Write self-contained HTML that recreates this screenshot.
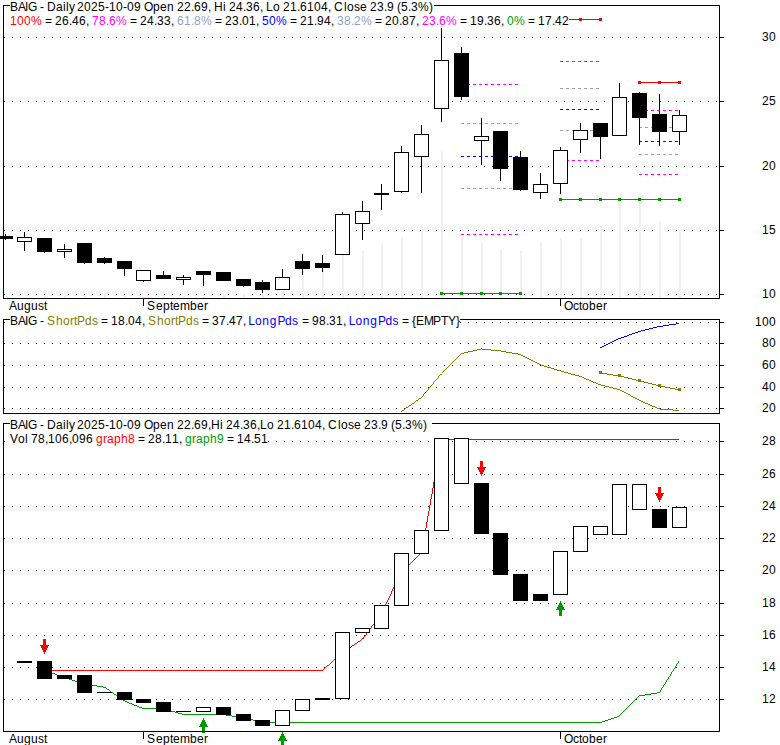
<!DOCTYPE html>
<html><head><meta charset="utf-8"><title>BAIG chart</title>
<style>
html,body{margin:0;padding:0;background:#fff;}
body{width:780px;height:745px;overflow:hidden;}
svg{display:block;}
svg text{font-family:"Liberation Sans",sans-serif;font-size:12px;white-space:pre;}
</style></head><body>
<svg width="780" height="745" viewBox="0 0 780 745" shape-rendering="crispEdges">
<rect x="0" y="0" width="780" height="745" fill="#fff"/>
<g id="top">
<path d="M4 37.5H717" stroke="#000" stroke-width="1" stroke-dasharray="1 7" fill="none"/>
<path d="M4 101.5H717" stroke="#000" stroke-width="1" stroke-dasharray="1 7" fill="none"/>
<path d="M4 166.5H717" stroke="#000" stroke-width="1" stroke-dasharray="1 7" fill="none"/>
<path d="M4 230.5H717" stroke="#000" stroke-width="1" stroke-dasharray="1 7" fill="none"/>
<path d="M4 294.5H717" stroke="#000" stroke-width="1" stroke-dasharray="1 7" fill="none"/>
<rect x="44" y="295" width="2" height="3" fill="#f0f0f0"/>
<rect x="64" y="296" width="2" height="2" fill="#f0f0f0"/>
<rect x="84" y="296" width="2" height="2" fill="#f0f0f0"/>
<rect x="104" y="293" width="2" height="5" fill="#f0f0f0"/>
<rect x="124" y="296" width="2" height="2" fill="#f0f0f0"/>
<rect x="143" y="296" width="2" height="2" fill="#f0f0f0"/>
<rect x="163" y="296" width="2" height="2" fill="#f0f0f0"/>
<rect x="183" y="296" width="2" height="2" fill="#f0f0f0"/>
<rect x="203" y="296" width="2" height="2" fill="#f0f0f0"/>
<rect x="223" y="295" width="2" height="3" fill="#f0f0f0"/>
<rect x="243" y="294" width="2" height="4" fill="#f0f0f0"/>
<rect x="262" y="293" width="2" height="5" fill="#f0f0f0"/>
<rect x="282" y="291" width="2" height="7" fill="#f0f0f0"/>
<rect x="302" y="270" width="2" height="28" fill="#f0f0f0"/>
<rect x="322" y="268" width="2" height="30" fill="#f0f0f0"/>
<rect x="342" y="240" width="2" height="58" fill="#f0f0f0"/>
<rect x="362" y="251" width="2" height="47" fill="#f0f0f0"/>
<rect x="381" y="244" width="2" height="54" fill="#f0f0f0"/>
<rect x="401" y="237" width="2" height="61" fill="#f0f0f0"/>
<rect x="421" y="226" width="2" height="72" fill="#f0f0f0"/>
<rect x="441" y="151" width="2" height="147" fill="#f0f0f0"/>
<rect x="461" y="237" width="2" height="61" fill="#f0f0f0"/>
<rect x="481" y="242" width="2" height="56" fill="#f0f0f0"/>
<rect x="500" y="249" width="2" height="49" fill="#f0f0f0"/>
<rect x="520" y="251" width="2" height="47" fill="#f0f0f0"/>
<rect x="540" y="242" width="2" height="56" fill="#f0f0f0"/>
<rect x="560" y="238" width="2" height="60" fill="#f0f0f0"/>
<rect x="580" y="238" width="2" height="60" fill="#f0f0f0"/>
<rect x="600" y="226" width="2" height="72" fill="#f0f0f0"/>
<rect x="619" y="201" width="2" height="97" fill="#f0f0f0"/>
<rect x="639" y="201" width="2" height="97" fill="#f0f0f0"/>
<rect x="659" y="221" width="2" height="77" fill="#f0f0f0"/>
<rect x="679" y="230" width="2" height="68" fill="#f0f0f0"/>
<rect x="461" y="84" width="3" height="1" fill="#ff00ff"/>
<rect x="467" y="84" width="3" height="1" fill="#ff00ff"/>
<rect x="473" y="84" width="3" height="1" fill="#ff00ff"/>
<rect x="479" y="84" width="3" height="1" fill="#ff00ff"/>
<rect x="485" y="84" width="3" height="1" fill="#ff00ff"/>
<rect x="491" y="84" width="3" height="1" fill="#ff00ff"/>
<rect x="497" y="84" width="3" height="1" fill="#ff00ff"/>
<rect x="503" y="84" width="3" height="1" fill="#ff00ff"/>
<rect x="509" y="84" width="3" height="1" fill="#ff00ff"/>
<rect x="515" y="84" width="3" height="1" fill="#ff00ff"/>
<rect x="461" y="123" width="3" height="1" fill="#a0a0a0"/>
<rect x="467" y="123" width="3" height="1" fill="#a0a0a0"/>
<rect x="473" y="123" width="3" height="1" fill="#a0a0a0"/>
<rect x="479" y="123" width="3" height="1" fill="#a0a0a0"/>
<rect x="485" y="123" width="3" height="1" fill="#a0a0a0"/>
<rect x="491" y="123" width="3" height="1" fill="#a0a0a0"/>
<rect x="497" y="123" width="3" height="1" fill="#a0a0a0"/>
<rect x="503" y="123" width="3" height="1" fill="#a0a0a0"/>
<rect x="509" y="123" width="3" height="1" fill="#a0a0a0"/>
<rect x="515" y="123" width="3" height="1" fill="#a0a0a0"/>
<rect x="461" y="156" width="3" height="1" fill="#0000ff"/>
<rect x="467" y="156" width="3" height="1" fill="#0000ff"/>
<rect x="473" y="156" width="3" height="1" fill="#0000ff"/>
<rect x="479" y="156" width="3" height="1" fill="#0000ff"/>
<rect x="485" y="156" width="3" height="1" fill="#0000ff"/>
<rect x="491" y="156" width="3" height="1" fill="#0000ff"/>
<rect x="497" y="156" width="3" height="1" fill="#0000ff"/>
<rect x="503" y="156" width="3" height="1" fill="#0000ff"/>
<rect x="509" y="156" width="3" height="1" fill="#0000ff"/>
<rect x="515" y="156" width="3" height="1" fill="#0000ff"/>
<rect x="461" y="188" width="3" height="1" fill="#a0a0a0"/>
<rect x="467" y="188" width="3" height="1" fill="#a0a0a0"/>
<rect x="473" y="188" width="3" height="1" fill="#a0a0a0"/>
<rect x="479" y="188" width="3" height="1" fill="#a0a0a0"/>
<rect x="485" y="188" width="3" height="1" fill="#a0a0a0"/>
<rect x="491" y="188" width="3" height="1" fill="#a0a0a0"/>
<rect x="497" y="188" width="3" height="1" fill="#a0a0a0"/>
<rect x="503" y="188" width="3" height="1" fill="#a0a0a0"/>
<rect x="509" y="188" width="3" height="1" fill="#a0a0a0"/>
<rect x="515" y="188" width="3" height="1" fill="#a0a0a0"/>
<rect x="461" y="234" width="3" height="1" fill="#ff00ff"/>
<rect x="467" y="234" width="3" height="1" fill="#ff00ff"/>
<rect x="473" y="234" width="3" height="1" fill="#ff00ff"/>
<rect x="479" y="234" width="3" height="1" fill="#ff00ff"/>
<rect x="485" y="234" width="3" height="1" fill="#ff00ff"/>
<rect x="491" y="234" width="3" height="1" fill="#ff00ff"/>
<rect x="497" y="234" width="3" height="1" fill="#ff00ff"/>
<rect x="503" y="234" width="3" height="1" fill="#ff00ff"/>
<rect x="509" y="234" width="3" height="1" fill="#ff00ff"/>
<rect x="515" y="234" width="3" height="1" fill="#ff00ff"/>
<rect x="560" y="61" width="3" height="1" fill="#ff00ff"/>
<rect x="566" y="61" width="3" height="1" fill="#ff00ff"/>
<rect x="572" y="61" width="3" height="1" fill="#ff00ff"/>
<rect x="578" y="61" width="3" height="1" fill="#ff00ff"/>
<rect x="584" y="61" width="3" height="1" fill="#ff00ff"/>
<rect x="590" y="61" width="3" height="1" fill="#ff00ff"/>
<rect x="596" y="61" width="3" height="1" fill="#ff00ff"/>
<rect x="560" y="88" width="3" height="1" fill="#a0a0a0"/>
<rect x="566" y="88" width="3" height="1" fill="#a0a0a0"/>
<rect x="572" y="88" width="3" height="1" fill="#a0a0a0"/>
<rect x="578" y="88" width="3" height="1" fill="#a0a0a0"/>
<rect x="584" y="88" width="3" height="1" fill="#a0a0a0"/>
<rect x="590" y="88" width="3" height="1" fill="#a0a0a0"/>
<rect x="596" y="88" width="3" height="1" fill="#a0a0a0"/>
<rect x="560" y="109" width="3" height="1" fill="#0000ff"/>
<rect x="566" y="109" width="3" height="1" fill="#0000ff"/>
<rect x="572" y="109" width="3" height="1" fill="#0000ff"/>
<rect x="578" y="109" width="3" height="1" fill="#0000ff"/>
<rect x="584" y="109" width="3" height="1" fill="#0000ff"/>
<rect x="590" y="109" width="3" height="1" fill="#0000ff"/>
<rect x="596" y="109" width="3" height="1" fill="#0000ff"/>
<rect x="560" y="130" width="3" height="1" fill="#a0a0a0"/>
<rect x="566" y="130" width="3" height="1" fill="#a0a0a0"/>
<rect x="572" y="130" width="3" height="1" fill="#a0a0a0"/>
<rect x="578" y="130" width="3" height="1" fill="#a0a0a0"/>
<rect x="584" y="130" width="3" height="1" fill="#a0a0a0"/>
<rect x="590" y="130" width="3" height="1" fill="#a0a0a0"/>
<rect x="596" y="130" width="3" height="1" fill="#a0a0a0"/>
<rect x="560" y="160" width="3" height="1" fill="#ff00ff"/>
<rect x="566" y="160" width="3" height="1" fill="#ff00ff"/>
<rect x="572" y="160" width="3" height="1" fill="#ff00ff"/>
<rect x="578" y="160" width="3" height="1" fill="#ff00ff"/>
<rect x="584" y="160" width="3" height="1" fill="#ff00ff"/>
<rect x="590" y="160" width="3" height="1" fill="#ff00ff"/>
<rect x="596" y="160" width="3" height="1" fill="#ff00ff"/>
<rect x="639" y="110" width="3" height="1" fill="#ff00ff"/>
<rect x="645" y="110" width="3" height="1" fill="#ff00ff"/>
<rect x="651" y="110" width="3" height="1" fill="#ff00ff"/>
<rect x="657" y="110" width="3" height="1" fill="#ff00ff"/>
<rect x="663" y="110" width="3" height="1" fill="#ff00ff"/>
<rect x="669" y="110" width="3" height="1" fill="#ff00ff"/>
<rect x="675" y="110" width="3" height="1" fill="#ff00ff"/>
<rect x="639" y="127" width="3" height="1" fill="#a0a0a0"/>
<rect x="645" y="127" width="3" height="1" fill="#a0a0a0"/>
<rect x="651" y="127" width="3" height="1" fill="#a0a0a0"/>
<rect x="657" y="127" width="3" height="1" fill="#a0a0a0"/>
<rect x="663" y="127" width="3" height="1" fill="#a0a0a0"/>
<rect x="669" y="127" width="3" height="1" fill="#a0a0a0"/>
<rect x="675" y="127" width="3" height="1" fill="#a0a0a0"/>
<rect x="639" y="141" width="3" height="1" fill="#0000ff"/>
<rect x="645" y="141" width="3" height="1" fill="#0000ff"/>
<rect x="651" y="141" width="3" height="1" fill="#0000ff"/>
<rect x="657" y="141" width="3" height="1" fill="#0000ff"/>
<rect x="663" y="141" width="3" height="1" fill="#0000ff"/>
<rect x="669" y="141" width="3" height="1" fill="#0000ff"/>
<rect x="675" y="141" width="3" height="1" fill="#0000ff"/>
<rect x="639" y="154" width="3" height="1" fill="#a0a0a0"/>
<rect x="645" y="154" width="3" height="1" fill="#a0a0a0"/>
<rect x="651" y="154" width="3" height="1" fill="#a0a0a0"/>
<rect x="657" y="154" width="3" height="1" fill="#a0a0a0"/>
<rect x="663" y="154" width="3" height="1" fill="#a0a0a0"/>
<rect x="669" y="154" width="3" height="1" fill="#a0a0a0"/>
<rect x="675" y="154" width="3" height="1" fill="#a0a0a0"/>
<rect x="639" y="174" width="3" height="1" fill="#ff00ff"/>
<rect x="645" y="174" width="3" height="1" fill="#ff00ff"/>
<rect x="651" y="174" width="3" height="1" fill="#ff00ff"/>
<rect x="657" y="174" width="3" height="1" fill="#ff00ff"/>
<rect x="663" y="174" width="3" height="1" fill="#ff00ff"/>
<rect x="669" y="174" width="3" height="1" fill="#ff00ff"/>
<rect x="675" y="174" width="3" height="1" fill="#ff00ff"/>
<rect x="5" y="234" width="1" height="6" fill="#000"/>
<rect x="-2" y="236" width="15" height="3" fill="#000"/>
<rect x="24" y="232" width="1" height="19" fill="#000"/>
<rect x="17" y="237" width="15" height="5" fill="#000"/>
<rect x="18" y="238" width="13" height="3" fill="#fff"/>
<rect x="44" y="238" width="1" height="15" fill="#000"/>
<rect x="37" y="238" width="15" height="14" fill="#000"/>
<rect x="64" y="244" width="1" height="14" fill="#000"/>
<rect x="57" y="249" width="15" height="3" fill="#000"/>
<rect x="58" y="250" width="13" height="1" fill="#fff"/>
<rect x="84" y="243" width="1" height="21" fill="#000"/>
<rect x="77" y="243" width="15" height="20" fill="#000"/>
<rect x="104" y="257" width="1" height="7" fill="#000"/>
<rect x="97" y="258" width="15" height="5" fill="#000"/>
<rect x="124" y="261" width="1" height="15" fill="#000"/>
<rect x="117" y="261" width="15" height="8" fill="#000"/>
<rect x="143" y="270" width="1" height="12" fill="#000"/>
<rect x="136" y="270" width="15" height="11" fill="#000"/>
<rect x="137" y="271" width="13" height="9" fill="#fff"/>
<rect x="163" y="271" width="1" height="8" fill="#000"/>
<rect x="156" y="275" width="15" height="4" fill="#000"/>
<rect x="183" y="275" width="1" height="10" fill="#000"/>
<rect x="176" y="277" width="15" height="3" fill="#000"/>
<rect x="177" y="278" width="13" height="1" fill="#fff"/>
<rect x="203" y="271" width="1" height="15" fill="#000"/>
<rect x="196" y="271" width="15" height="4" fill="#000"/>
<rect x="223" y="272" width="1" height="9" fill="#000"/>
<rect x="216" y="272" width="15" height="9" fill="#000"/>
<rect x="243" y="279" width="1" height="8" fill="#000"/>
<rect x="236" y="279" width="15" height="7" fill="#000"/>
<rect x="262" y="280" width="1" height="13" fill="#000"/>
<rect x="255" y="282" width="15" height="8" fill="#000"/>
<rect x="282" y="269" width="1" height="21" fill="#000"/>
<rect x="275" y="277" width="15" height="13" fill="#000"/>
<rect x="276" y="278" width="13" height="11" fill="#fff"/>
<rect x="302" y="254" width="1" height="21" fill="#000"/>
<rect x="295" y="261" width="15" height="8" fill="#000"/>
<rect x="322" y="255" width="1" height="17" fill="#000"/>
<rect x="315" y="263" width="15" height="5" fill="#000"/>
<rect x="342" y="212" width="1" height="43" fill="#000"/>
<rect x="335" y="214" width="15" height="41" fill="#000"/>
<rect x="336" y="215" width="13" height="39" fill="#fff"/>
<rect x="362" y="201" width="1" height="39" fill="#000"/>
<rect x="355" y="211" width="15" height="13" fill="#000"/>
<rect x="356" y="212" width="13" height="11" fill="#fff"/>
<rect x="381" y="184" width="1" height="26" fill="#000"/>
<rect x="374" y="193" width="15" height="2" fill="#000"/>
<rect x="401" y="146" width="1" height="47" fill="#000"/>
<rect x="394" y="152" width="15" height="40" fill="#000"/>
<rect x="395" y="153" width="13" height="38" fill="#fff"/>
<rect x="421" y="125" width="1" height="68" fill="#000"/>
<rect x="414" y="134" width="15" height="23" fill="#000"/>
<rect x="415" y="135" width="13" height="21" fill="#fff"/>
<rect x="441" y="28" width="1" height="94" fill="#000"/>
<rect x="434" y="60" width="15" height="49" fill="#000"/>
<rect x="435" y="61" width="13" height="47" fill="#fff"/>
<rect x="461" y="47" width="1" height="53" fill="#000"/>
<rect x="454" y="53" width="15" height="44" fill="#000"/>
<rect x="481" y="118" width="1" height="47" fill="#000"/>
<rect x="474" y="136" width="15" height="5" fill="#000"/>
<rect x="475" y="137" width="13" height="3" fill="#fff"/>
<rect x="500" y="131" width="1" height="50" fill="#000"/>
<rect x="493" y="131" width="15" height="38" fill="#000"/>
<rect x="520" y="151" width="1" height="40" fill="#000"/>
<rect x="513" y="157" width="15" height="33" fill="#000"/>
<rect x="540" y="173" width="1" height="26" fill="#000"/>
<rect x="533" y="184" width="15" height="9" fill="#000"/>
<rect x="534" y="185" width="13" height="7" fill="#fff"/>
<rect x="560" y="147" width="1" height="47" fill="#000"/>
<rect x="553" y="150" width="15" height="34" fill="#000"/>
<rect x="554" y="151" width="13" height="32" fill="#fff"/>
<rect x="580" y="123" width="1" height="30" fill="#000"/>
<rect x="573" y="130" width="15" height="10" fill="#000"/>
<rect x="574" y="131" width="13" height="8" fill="#fff"/>
<rect x="600" y="123" width="1" height="36" fill="#000"/>
<rect x="593" y="123" width="15" height="14" fill="#000"/>
<rect x="619" y="83" width="1" height="53" fill="#000"/>
<rect x="612" y="97" width="15" height="39" fill="#000"/>
<rect x="613" y="98" width="13" height="37" fill="#fff"/>
<rect x="639" y="92" width="1" height="53" fill="#000"/>
<rect x="632" y="93" width="15" height="25" fill="#000"/>
<rect x="659" y="94" width="1" height="52" fill="#000"/>
<rect x="652" y="114" width="15" height="18" fill="#000"/>
<rect x="679" y="110" width="1" height="35" fill="#000"/>
<rect x="672" y="115" width="15" height="17" fill="#000"/>
<rect x="673" y="116" width="13" height="15" fill="#fff"/>
<rect x="441" y="293" width="81" height="1" fill="#009900"/>
<rect x="440" y="292" width="3" height="3" fill="#009900"/>
<rect x="460" y="292" width="3" height="3" fill="#009900"/>
<rect x="480" y="292" width="3" height="3" fill="#009900"/>
<rect x="499" y="292" width="3" height="3" fill="#009900"/>
<rect x="519" y="292" width="3" height="3" fill="#009900"/>
<rect x="560" y="199" width="121" height="1" fill="#009900"/>
<rect x="559" y="198" width="3" height="3" fill="#009900"/>
<rect x="579" y="198" width="3" height="3" fill="#009900"/>
<rect x="599" y="198" width="3" height="3" fill="#009900"/>
<rect x="618" y="198" width="3" height="3" fill="#009900"/>
<rect x="638" y="198" width="3" height="3" fill="#009900"/>
<rect x="658" y="198" width="3" height="3" fill="#009900"/>
<rect x="678" y="198" width="3" height="3" fill="#009900"/>
<rect x="560" y="19" width="42" height="1" fill="#ff0000"/>
<rect x="579" y="18" width="3" height="3" fill="#ff0000"/>
<rect x="599" y="18" width="3" height="3" fill="#ff0000"/>
<rect x="639" y="82" width="42" height="1" fill="#ff0000"/>
<rect x="638" y="81" width="3" height="3" fill="#ff0000"/>
<rect x="658" y="81" width="3" height="3" fill="#ff0000"/>
<rect x="678" y="81" width="3" height="3" fill="#ff0000"/>
<rect x="3" y="5" width="717" height="1" fill="#000"/>
<rect x="3" y="298" width="717" height="1" fill="#000"/>
<rect x="3" y="5" width="1" height="294" fill="#000"/>
<rect x="719" y="5" width="1" height="294" fill="#000"/>
<rect x="720" y="37" width="4" height="1" fill="#000"/>
<rect x="720" y="101" width="4" height="1" fill="#000"/>
<rect x="720" y="166" width="4" height="1" fill="#000"/>
<rect x="720" y="230" width="4" height="1" fill="#000"/>
<rect x="720" y="294" width="4" height="1" fill="#000"/>
<rect x="143" y="298" width="1" height="8" fill="#000"/>
<rect x="560" y="298" width="1" height="8" fill="#000"/>
<rect x="10" y="0" width="424" height="13" fill="#fff"/>
<rect x="10" y="13" width="559" height="14" fill="#fff"/>
<text x="10 18 25 28" y="11" fill="#000">BAIG</text>
<text x="40" y="11" fill="#000">-</text>
<text x="47 56 63 66 69" y="11" fill="#000">Daily</text>
<text x="77 84 91 98 105 109 116 123 127 134" y="11" fill="#000">2025-10-09</text>
<text x="144 153 160 167" y="11" fill="#000">Open</text>
<text x="177 184 191 194 201 208" y="11" fill="#000">22.69,</text>
<text x="214 223" y="11" fill="#000">Hi</text>
<text x="229 236 243 246 253 260" y="11" fill="#000">24.36,</text>
<text x="266 273" y="11" fill="#000">Lo</text>
<text x="283 290 297 300 307 314 321 328" y="11" fill="#000">21.6104,</text>
<text x="334 344 347 354 360" y="11" fill="#000">Close</text>
<text x="370 377 384 387" y="11" fill="#000">23.9</text>
<text x="397 401 408 411 418 429" y="11" fill="#000">(5.3%)</text>
<text x="10 17 24 31" y="25" fill="#ff0000">100%</text>
<text x="45" y="25" fill="#000">=</text>
<text x="55 62 69 72 79 86" y="25" fill="#000">26.46,</text>
<text x="92 99 106 109 116" y="25" fill="#ff00ff">78.6%</text>
<text x="130" y="25" fill="#000">=</text>
<text x="140 147 154 157 164 171" y="25" fill="#000">24.33,</text>
<text x="177 184 191 194 201" y="25" fill="#8ea2c8">61.8%</text>
<text x="215" y="25" fill="#000">=</text>
<text x="225 232 239 242 249 256" y="25" fill="#000">23.01,</text>
<text x="262 269 276" y="25" fill="#0000ff">50%</text>
<text x="290" y="25" fill="#000">=</text>
<text x="300 307 314 317 324 331" y="25" fill="#000">21.94,</text>
<text x="337 344 351 354 361" y="25" fill="#8ea2c8">38.2%</text>
<text x="375" y="25" fill="#000">=</text>
<text x="385 392 399 402 409 416" y="25" fill="#000">20.87,</text>
<text x="422 429 436 439 446" y="25" fill="#ff00ff">23.6%</text>
<text x="460" y="25" fill="#000">=</text>
<text x="470 477 484 487 494 501" y="25" fill="#000">19.36,</text>
<text x="507 514" y="25" fill="#009900">0%</text>
<text x="528" y="25" fill="#000">=</text>
<text x="538 545 552 555 562" y="25" fill="#000">17.42</text>
<text x="762 769" y="41" fill="#000">30</text>
<text x="762 769" y="105" fill="#000">25</text>
<text x="762 769" y="170" fill="#000">20</text>
<text x="762 769" y="234" fill="#000">15</text>
<text x="762 769" y="298" fill="#000">10</text>
<text x="9 17 24 31 38 44" y="310" fill="#000">August</text>
<text x="147 156 163 170 173 180 190 197 204" y="310" fill="#000">September</text>
<text x="564 573 579 582 589 596 603" y="310" fill="#000">October</text>
</g>
<g id="mid">
<path d="M4 322.5H717" stroke="#000" stroke-width="1" stroke-dasharray="1 7" fill="none"/>
<path d="M4 343.5H717" stroke="#000" stroke-width="1" stroke-dasharray="1 7" fill="none"/>
<path d="M4 365.5H717" stroke="#000" stroke-width="1" stroke-dasharray="1 7" fill="none"/>
<path d="M4 387.5H717" stroke="#000" stroke-width="1" stroke-dasharray="1 7" fill="none"/>
<path d="M4 408.5H717" stroke="#000" stroke-width="1" stroke-dasharray="1 7" fill="none"/>
<path d="M401 411h1v1h-1zM402 410h2v1h-2zM404 409h1v1h-1zM405 408h1v1h-1zM406 407h2v1h-2zM408 406h1v1h-1zM409 405h2v1h-2zM411 404h1v1h-1zM412 403h2v1h-2zM414 402h1v1h-1zM415 401h1v1h-1zM416 400h2v1h-2zM418 399h1v1h-1zM419 398h2v1h-2zM421 397h1v1h-1zM422 396h1v1h-1zM423 394h1v2h-1zM424 393h1v1h-1zM425 392h1v1h-1zM426 391h1v1h-1zM427 390h1v1h-1zM428 388h1v2h-1zM429 387h1v1h-1zM430 386h1v1h-1zM431 385h1v1h-1zM432 384h1v1h-1zM433 382h1v2h-1zM434 381h1v1h-1zM435 380h1v1h-1zM436 379h1v1h-1zM437 378h1v1h-1zM438 376h1v2h-1zM439 375h1v1h-1zM440 374h2v1h-2zM442 372h1v1h-1zM443 371h1v1h-1zM444 370h1v1h-1zM445 369h1v1h-1zM446 368h1v1h-1zM447 367h1v1h-1zM448 366h1v1h-1zM449 365h1v1h-1zM450 364h1v1h-1zM451 363h1v1h-1zM452 362h1v1h-1zM453 361h1v1h-1zM454 360h1v1h-1zM455 359h1v1h-1zM456 358h1v1h-1zM457 357h1v1h-1zM458 356h1v1h-1zM459 355h1v1h-1zM460 354h1v1h-1zM461 353h3v1h-3zM464 352h4v1h-4zM468 351h5v1h-5zM473 350h4v1h-4zM477 349h4v1h-4zM481 348h1v1h-1zM482 349h9v1h-9zM491 350h10v1h-10zM501 351h5v1h-5zM506 352h6v1h-6zM512 353h6v1h-6zM518 354h3v1h-3zM521 355h2v1h-2zM523 356h2v1h-2zM525 357h2v1h-2zM527 358h2v1h-2zM529 359h2v1h-2zM531 360h2v1h-2zM533 361h2v1h-2zM535 362h2v1h-2zM537 363h2v1h-2zM539 364h2v1h-2zM541 365h3v1h-3zM544 366h3v1h-3zM547 367h4v1h-4zM551 368h3v1h-3zM554 369h3v1h-3zM557 370h4v1h-4zM561 371h3v1h-3zM564 372h4v1h-4zM568 373h3v1h-3zM571 374h4v1h-4zM575 375h4v1h-4zM579 376h3v1h-3zM582 377h2v1h-2zM584 378h2v1h-2zM586 379h3v1h-3zM589 380h2v1h-2zM591 381h2v1h-2zM593 382h3v1h-3zM596 383h2v1h-2zM598 384h3v1h-3zM601 385h4v1h-4zM605 386h4v1h-4zM609 387h4v1h-4zM613 388h4v1h-4zM617 389h3v1h-3zM620 390h2v1h-2zM622 391h2v1h-2zM624 392h2v1h-2zM626 393h2v1h-2zM628 394h2v1h-2zM630 395h1v1h-1zM631 396h2v1h-2zM633 397h2v1h-2zM635 398h2v1h-2zM637 399h2v1h-2zM639 400h2v1h-2zM641 401h2v1h-2zM643 402h2v1h-2zM645 403h3v1h-3zM648 404h2v1h-2zM650 405h2v1h-2zM652 406h3v1h-3zM655 407h2v1h-2zM657 408h3v1h-3zM660 409h13v1h-13zM673 410h6v1h-6z" fill="#808000"/>
<path d="M600 372h1v1h-1zM601 373h6v1h-6zM607 374h6v1h-6zM613 375h7v1h-7zM620 376h4v1h-4zM624 377h4v1h-4zM628 378h4v1h-4zM632 379h4v1h-4zM636 380h4v1h-4zM640 381h4v1h-4zM644 382h4v1h-4zM648 383h4v1h-4zM652 384h4v1h-4zM656 385h4v1h-4zM660 386h5v1h-5zM665 387h5v1h-5zM670 388h5v1h-5zM675 389h4v1h-4z" fill="#808000"/>
<rect x="599" y="371" width="3" height="3" fill="#808000"/>
<rect x="618" y="374" width="3" height="3" fill="#808000"/>
<rect x="638" y="379" width="3" height="3" fill="#808000"/>
<rect x="658" y="384" width="3" height="3" fill="#808000"/>
<rect x="678" y="388" width="3" height="3" fill="#808000"/>
<path d="M600 347h2v1h-2zM602 346h2v1h-2zM604 345h2v1h-2zM606 344h2v1h-2zM608 343h2v1h-2zM610 342h2v1h-2zM612 341h2v1h-2zM614 340h2v1h-2zM616 339h2v1h-2zM618 338h3v1h-3zM621 337h3v1h-3zM624 336h3v1h-3zM627 335h2v1h-2zM629 334h3v1h-3zM632 333h3v1h-3zM635 332h3v1h-3zM638 331h3v1h-3zM641 330h4v1h-4zM645 329h4v1h-4zM649 328h4v1h-4zM653 327h4v1h-4zM657 326h6v1h-6zM663 325h6v1h-6zM669 324h7v1h-7zM676 323h3v1h-3z" fill="#0000ff"/>
<rect x="3" y="319" width="717" height="1" fill="#000"/>
<rect x="3" y="413" width="717" height="1" fill="#000"/>
<rect x="3" y="319" width="1" height="95" fill="#000"/>
<rect x="719" y="319" width="1" height="95" fill="#000"/>
<rect x="720" y="322" width="4" height="1" fill="#000"/>
<rect x="720" y="343" width="4" height="1" fill="#000"/>
<rect x="720" y="365" width="4" height="1" fill="#000"/>
<rect x="720" y="387" width="4" height="1" fill="#000"/>
<rect x="720" y="408" width="4" height="1" fill="#000"/>
<rect x="10" y="313" width="450" height="14" fill="#fff"/>
<text x="10 18 25 28" y="325" fill="#000">BAIG</text>
<text x="40" y="325" fill="#000">-</text>
<text x="47 56 63 70 74 77 85 92" y="325" fill="#808000">ShortPds</text>
<text x="101" y="325" fill="#000">=</text>
<text x="111 118 125 128 135 142" y="325" fill="#000">18.04,</text>
<text x="148 157 164 171 175 178 186 193" y="325" fill="#808000">ShortPds</text>
<text x="202" y="325" fill="#000">=</text>
<text x="212 219 226 229 236 243" y="325" fill="#000">37.47,</text>
<text x="302" y="325" fill="#000">=</text>
<text x="312 319 326 329 336 343" y="325" fill="#000">98.31,</text>
<text x="402" y="325" fill="#000">=</text>
<text x="412 416 424 433 441 448 456" y="325" fill="#000">{EMPTY}</text>
<text x="248.3 255 262.2 269.7 277.6 285.1 292" y="325" fill="#0000ff">LongPds</text>
<text x="348.8 355.5 362.7 370.2 378.1 385.6 392.5" y="325" fill="#0000ff">LongPds</text>
<text x="755 762 769" y="326" fill="#000">100</text>
<text x="762 769" y="347" fill="#000">80</text>
<text x="762 769" y="369" fill="#000">60</text>
<text x="762 769" y="391" fill="#000">40</text>
<text x="762 769" y="412" fill="#000">20</text>
</g>
<g id="bot">
<path d="M4 441.5H717" stroke="#000" stroke-width="1" stroke-dasharray="1 7" fill="none"/>
<path d="M4 474.5H717" stroke="#000" stroke-width="1" stroke-dasharray="1 7" fill="none"/>
<path d="M4 506.5H717" stroke="#000" stroke-width="1" stroke-dasharray="1 7" fill="none"/>
<path d="M4 538.5H717" stroke="#000" stroke-width="1" stroke-dasharray="1 7" fill="none"/>
<path d="M4 570.5H717" stroke="#000" stroke-width="1" stroke-dasharray="1 7" fill="none"/>
<path d="M4 603.5H717" stroke="#000" stroke-width="1" stroke-dasharray="1 7" fill="none"/>
<path d="M4 635.5H717" stroke="#000" stroke-width="1" stroke-dasharray="1 7" fill="none"/>
<path d="M4 667.5H717" stroke="#000" stroke-width="1" stroke-dasharray="1 7" fill="none"/>
<path d="M4 699.5H717" stroke="#000" stroke-width="1" stroke-dasharray="1 7" fill="none"/>
<path d="M44 670h2v1h-2zM46 671h3v1h-3zM49 672h3v1h-3zM52 673h3v1h-3zM55 674h2v1h-2zM57 675h3v1h-3zM60 676h3v1h-3zM63 677h3v1h-3zM66 678h3v1h-3zM69 679h3v1h-3zM72 680h3v1h-3zM75 681h3v1h-3zM78 682h3v1h-3zM81 683h4v1h-4zM85 684h6v1h-6zM91 685h6v1h-6zM97 686h6v1h-6zM103 687h3v1h-3zM106 688h1v1h-1zM107 689h2v1h-2zM109 690h1v1h-1zM110 691h1v1h-1zM111 692h2v1h-2zM113 693h1v1h-1zM114 694h2v1h-2zM116 695h1v1h-1zM117 696h2v1h-2zM119 697h1v1h-1zM120 698h2v1h-2zM122 699h1v1h-1zM123 700h2v1h-2zM125 701h2v1h-2zM127 702h2v1h-2zM129 703h3v1h-3zM132 704h2v1h-2zM134 705h3v1h-3zM137 706h2v1h-2zM139 707h3v1h-3zM142 708h22v1h-22zM164 709h4v1h-4zM168 710h3v1h-3zM171 711h4v1h-4zM175 712h3v1h-3zM178 713h4v1h-4zM182 714h44v1h-44zM226 715h6v1h-6zM232 716h6v1h-6zM238 717h6v1h-6zM244 718h4v1h-4zM248 719h5v1h-5zM253 720h5v1h-5zM258 721h5v1h-5zM263 722h339v1h-339zM602 721h3v1h-3zM605 720h3v1h-3zM608 719h3v1h-3zM611 718h3v1h-3zM614 717h3v1h-3zM617 716h2v1h-2zM619 715h1v1h-1zM620 714h1v1h-1zM621 713h1v1h-1zM622 712h1v1h-1zM623 711h1v1h-1zM624 710h1v1h-1zM625 709h1v1h-1zM626 708h1v1h-1zM627 707h1v1h-1zM628 706h1v1h-1zM629 705h1v1h-1zM630 704h1v1h-1zM631 703h1v1h-1zM632 702h1v1h-1zM633 701h1v1h-1zM634 700h1v1h-1zM635 699h1v1h-1zM636 698h1v1h-1zM637 697h1v1h-1zM638 696h1v1h-1zM639 695h6v1h-6zM645 694h6v1h-6zM651 693h6v1h-6zM657 692h3v1h-3zM660 690h1v2h-1zM661 688h1v2h-1zM662 687h1v1h-1zM663 685h1v2h-1zM664 684h1v1h-1zM665 682h1v2h-1zM666 680h1v2h-1zM667 679h1v1h-1zM668 677h1v2h-1zM669 676h1v1h-1zM670 674h1v2h-1zM671 672h1v2h-1zM672 671h1v1h-1zM673 669h1v2h-1zM674 668h1v1h-1zM675 666h1v2h-1zM676 664h1v2h-1zM677 663h1v1h-1zM678 661h1v2h-1z" fill="#009900"/>
<path d="M44 670h279v1h-279zM323 669h1v1h-1zM324 668h1v1h-1zM325 667h1v1h-1zM326 666h1v1h-1zM327 665h2v1h-2zM329 664h1v1h-1zM330 663h1v1h-1zM331 662h1v1h-1zM332 661h1v1h-1zM333 660h1v1h-1zM334 659h1v1h-1zM335 658h1v1h-1zM336 657h1v1h-1zM337 656h2v1h-2zM339 655h1v1h-1zM340 654h1v1h-1zM341 653h1v1h-1zM342 652h1v1h-1zM343 651h2v1h-2zM345 650h1v1h-1zM346 649h2v1h-2zM348 648h1v1h-1zM349 647h2v1h-2zM351 646h1v1h-1zM352 645h2v1h-2zM354 644h1v1h-1zM355 643h2v1h-2zM357 642h1v1h-1zM358 641h2v1h-2zM360 640h1v1h-1zM361 639h1v1h-1zM362 638h2v1h-2zM363 637h1v1h-1zM364 636h1v1h-1zM365 635h1v1h-1zM366 633h1v2h-1zM367 632h1v1h-1zM368 631h1v1h-1zM369 629h1v2h-1zM370 628h1v1h-1zM371 626h1v2h-1zM372 625h1v1h-1zM373 624h1v1h-1zM374 622h1v2h-1zM375 621h1v1h-1zM376 620h1v1h-1zM377 618h1v2h-1zM378 617h1v1h-1zM379 616h1v1h-1zM380 614h1v2h-1zM381 612h1v2h-1zM382 610h1v2h-1zM383 608h1v2h-1zM384 606h1v2h-1zM385 604h1v2h-1zM386 602h1v2h-1zM387 600h1v2h-1zM388 598h1v2h-1zM389 596h1v2h-1zM390 594h1v2h-1zM391 591h1v3h-1zM392 589h1v2h-1zM393 587h1v2h-1zM394 585h1v2h-1zM395 583h1v2h-1zM396 581h1v2h-1zM397 579h1v2h-1zM398 577h1v2h-1zM399 575h1v2h-1zM400 573h1v2h-1zM401 571h1v2h-1zM402 570h1v1h-1zM403 569h1v1h-1zM404 568h1v1h-1zM405 567h1v1h-1zM406 566h1v1h-1zM407 565h2v1h-2zM409 564h1v1h-1zM410 563h1v1h-1zM411 562h1v1h-1zM412 561h1v1h-1zM413 560h1v1h-1zM414 559h1v1h-1zM415 558h1v1h-1zM416 557h1v1h-1zM417 556h1v1h-1zM418 555h1v1h-1zM419 554h1v1h-1zM420 553h1v1h-1zM421 551h1v2h-1zM422 545h1v6h-1zM423 539h1v6h-1zM424 534h1v5h-1zM425 528h1v6h-1zM426 522h1v6h-1zM427 516h1v6h-1zM428 511h1v5h-1zM429 505h1v6h-1zM430 499h1v6h-1zM431 494h1v5h-1zM432 488h1v6h-1zM433 482h1v6h-1zM434 477h1v5h-1zM435 471h1v6h-1zM436 465h1v6h-1zM437 459h1v6h-1zM438 454h1v5h-1zM439 448h1v6h-1zM440 442h1v6h-1zM441 440h1v2h-1zM441 439h238v1h-238z" fill="#ff0000"/>
<rect x="17" y="661" width="15" height="2" fill="#000"/>
<rect x="37" y="661" width="15" height="18" fill="#000"/>
<rect x="57" y="675" width="15" height="4" fill="#000"/>
<rect x="77" y="675" width="15" height="18" fill="#000"/>
<rect x="97" y="692" width="15" height="1" fill="#000"/>
<rect x="117" y="692" width="15" height="8" fill="#000"/>
<rect x="136" y="699" width="15" height="4" fill="#000"/>
<rect x="156" y="702" width="15" height="10" fill="#000"/>
<rect x="176" y="711" width="15" height="1" fill="#000"/>
<rect x="196" y="707" width="15" height="5" fill="#000"/>
<rect x="197" y="708" width="13" height="3" fill="#fff"/>
<rect x="216" y="707" width="15" height="8" fill="#000"/>
<rect x="236" y="714" width="15" height="7" fill="#000"/>
<rect x="255" y="720" width="15" height="6" fill="#000"/>
<rect x="275" y="710" width="15" height="16" fill="#000"/>
<rect x="276" y="711" width="13" height="14" fill="#fff"/>
<rect x="295" y="699" width="15" height="12" fill="#000"/>
<rect x="296" y="700" width="13" height="10" fill="#fff"/>
<rect x="315" y="698" width="15" height="2" fill="#000"/>
<rect x="335" y="632" width="15" height="67" fill="#000"/>
<rect x="336" y="633" width="13" height="65" fill="#fff"/>
<rect x="355" y="628" width="15" height="5" fill="#000"/>
<rect x="356" y="629" width="13" height="3" fill="#fff"/>
<rect x="374" y="605" width="15" height="24" fill="#000"/>
<rect x="375" y="606" width="13" height="22" fill="#fff"/>
<rect x="394" y="553" width="15" height="53" fill="#000"/>
<rect x="395" y="554" width="13" height="51" fill="#fff"/>
<rect x="414" y="530" width="15" height="24" fill="#000"/>
<rect x="415" y="531" width="13" height="22" fill="#fff"/>
<rect x="434" y="438" width="15" height="93" fill="#000"/>
<rect x="435" y="439" width="13" height="91" fill="#fff"/>
<rect x="454" y="438" width="15" height="46" fill="#000"/>
<rect x="455" y="439" width="13" height="44" fill="#fff"/>
<rect x="474" y="483" width="15" height="51" fill="#000"/>
<rect x="493" y="533" width="15" height="42" fill="#000"/>
<rect x="513" y="574" width="15" height="27" fill="#000"/>
<rect x="533" y="594" width="15" height="7" fill="#000"/>
<rect x="553" y="551" width="15" height="44" fill="#000"/>
<rect x="554" y="552" width="13" height="42" fill="#fff"/>
<rect x="573" y="526" width="15" height="26" fill="#000"/>
<rect x="574" y="527" width="13" height="24" fill="#fff"/>
<rect x="593" y="526" width="15" height="9" fill="#000"/>
<rect x="594" y="527" width="13" height="7" fill="#fff"/>
<rect x="612" y="484" width="15" height="51" fill="#000"/>
<rect x="613" y="485" width="13" height="49" fill="#fff"/>
<rect x="632" y="484" width="15" height="26" fill="#000"/>
<rect x="633" y="485" width="13" height="24" fill="#fff"/>
<rect x="652" y="509" width="15" height="19" fill="#000"/>
<rect x="672" y="507" width="15" height="21" fill="#000"/>
<rect x="673" y="508" width="13" height="19" fill="#fff"/>
<rect x="43" y="639" width="3" height="6" fill="#ff0000"/>
<rect x="40" y="645" width="9" height="1" fill="#ff0000"/>
<rect x="41" y="646" width="7" height="1" fill="#ff0000"/>
<rect x="41" y="647" width="7" height="1" fill="#ff0000"/>
<rect x="42" y="648" width="5" height="1" fill="#ff0000"/>
<rect x="42" y="649" width="5" height="1" fill="#ff0000"/>
<rect x="43" y="650" width="3" height="1" fill="#ff0000"/>
<rect x="43" y="651" width="3" height="1" fill="#ff0000"/>
<rect x="44" y="652" width="1" height="1" fill="#ff0000"/>
<rect x="44" y="653" width="1" height="1" fill="#ff0000"/>
<rect x="480" y="461" width="3" height="6" fill="#ff0000"/>
<rect x="477" y="467" width="9" height="1" fill="#ff0000"/>
<rect x="478" y="468" width="7" height="1" fill="#ff0000"/>
<rect x="478" y="469" width="7" height="1" fill="#ff0000"/>
<rect x="479" y="470" width="5" height="1" fill="#ff0000"/>
<rect x="479" y="471" width="5" height="1" fill="#ff0000"/>
<rect x="480" y="472" width="3" height="1" fill="#ff0000"/>
<rect x="480" y="473" width="3" height="1" fill="#ff0000"/>
<rect x="481" y="474" width="1" height="1" fill="#ff0000"/>
<rect x="481" y="475" width="1" height="1" fill="#ff0000"/>
<rect x="658" y="487" width="3" height="6" fill="#ff0000"/>
<rect x="655" y="493" width="9" height="1" fill="#ff0000"/>
<rect x="656" y="494" width="7" height="1" fill="#ff0000"/>
<rect x="656" y="495" width="7" height="1" fill="#ff0000"/>
<rect x="657" y="496" width="5" height="1" fill="#ff0000"/>
<rect x="657" y="497" width="5" height="1" fill="#ff0000"/>
<rect x="658" y="498" width="3" height="1" fill="#ff0000"/>
<rect x="658" y="499" width="3" height="1" fill="#ff0000"/>
<rect x="659" y="500" width="1" height="1" fill="#ff0000"/>
<rect x="659" y="501" width="1" height="1" fill="#ff0000"/>
<rect x="203" y="718" width="1" height="1" fill="#009900"/>
<rect x="203" y="719" width="1" height="1" fill="#009900"/>
<rect x="202" y="720" width="3" height="1" fill="#009900"/>
<rect x="202" y="721" width="3" height="1" fill="#009900"/>
<rect x="201" y="722" width="5" height="1" fill="#009900"/>
<rect x="201" y="723" width="5" height="1" fill="#009900"/>
<rect x="200" y="724" width="7" height="1" fill="#009900"/>
<rect x="200" y="725" width="7" height="1" fill="#009900"/>
<rect x="199" y="726" width="9" height="1" fill="#009900"/>
<rect x="202" y="727" width="3" height="6" fill="#009900"/>
<rect x="560" y="601" width="1" height="1" fill="#009900"/>
<rect x="560" y="602" width="1" height="1" fill="#009900"/>
<rect x="559" y="603" width="3" height="1" fill="#009900"/>
<rect x="559" y="604" width="3" height="1" fill="#009900"/>
<rect x="558" y="605" width="5" height="1" fill="#009900"/>
<rect x="558" y="606" width="5" height="1" fill="#009900"/>
<rect x="557" y="607" width="7" height="1" fill="#009900"/>
<rect x="557" y="608" width="7" height="1" fill="#009900"/>
<rect x="556" y="609" width="9" height="1" fill="#009900"/>
<rect x="559" y="610" width="3" height="6" fill="#009900"/>
<rect x="282" y="732" width="1" height="1" fill="#009900"/>
<rect x="282" y="733" width="1" height="1" fill="#009900"/>
<rect x="281" y="734" width="3" height="1" fill="#009900"/>
<rect x="281" y="735" width="3" height="1" fill="#009900"/>
<rect x="280" y="736" width="5" height="1" fill="#009900"/>
<rect x="280" y="737" width="5" height="1" fill="#009900"/>
<rect x="279" y="738" width="7" height="1" fill="#009900"/>
<rect x="279" y="739" width="7" height="1" fill="#009900"/>
<rect x="278" y="740" width="9" height="1" fill="#009900"/>
<rect x="281" y="741" width="3" height="6" fill="#009900"/>
<rect x="3" y="423" width="717" height="1" fill="#000"/>
<rect x="3" y="731" width="717" height="1" fill="#000"/>
<rect x="3" y="423" width="1" height="309" fill="#000"/>
<rect x="719" y="423" width="1" height="309" fill="#000"/>
<rect x="720" y="441" width="4" height="1" fill="#000"/>
<rect x="720" y="474" width="4" height="1" fill="#000"/>
<rect x="720" y="506" width="4" height="1" fill="#000"/>
<rect x="720" y="538" width="4" height="1" fill="#000"/>
<rect x="720" y="570" width="4" height="1" fill="#000"/>
<rect x="720" y="603" width="4" height="1" fill="#000"/>
<rect x="720" y="635" width="4" height="1" fill="#000"/>
<rect x="720" y="667" width="4" height="1" fill="#000"/>
<rect x="720" y="699" width="4" height="1" fill="#000"/>
<rect x="143" y="731" width="1" height="8" fill="#000"/>
<rect x="560" y="731" width="1" height="8" fill="#000"/>
<rect x="10" y="417" width="422" height="14" fill="#fff"/>
<rect x="10" y="431" width="258" height="16" fill="#fff"/>
<text x="10 18 25 28" y="429" fill="#000">BAIG</text>
<text x="40" y="429" fill="#000">-</text>
<text x="47 56 63 66 69" y="429" fill="#000">Daily</text>
<text x="77 84 91 98 105 109 116 123 127 134" y="429" fill="#000">2025-10-09</text>
<text x="144 153 160 167" y="429" fill="#000">Open</text>
<text x="177 184 191 194 201 208" y="429" fill="#000">22.69,</text>
<text x="211 220" y="429" fill="#000">Hi</text>
<text x="226 233 240 243 250 257" y="429" fill="#000">24.36,</text>
<text x="260 267" y="429" fill="#000">Lo</text>
<text x="277 284 291 294 301 308 315 322" y="429" fill="#000">21.6104,</text>
<text x="328 338 341 348 354" y="429" fill="#000">Close</text>
<text x="364 371 378 381" y="429" fill="#000">23.9</text>
<text x="391 395 402 405 412 423" y="429" fill="#000">(5.3%)</text>
<text x="10 18 25" y="443" fill="#000">Vol</text>
<text x="31 38 45 48 55 62 69 72 79 86" y="443" fill="#000">78,106,096</text>
<text x="96 103 107 114 121 128" y="443" fill="#ff0000">graph8</text>
<text x="138" y="443" fill="#000">=</text>
<text x="148 155 162 165 172 179" y="443" fill="#000">28.11,</text>
<text x="185 192 196 203 210 217" y="443" fill="#009900">graph9</text>
<text x="227" y="443" fill="#000">=</text>
<text x="237 244 251 254 261" y="443" fill="#000">14.51</text>
<text x="762 769" y="445" fill="#000">28</text>
<text x="762 769" y="478" fill="#000">26</text>
<text x="762 769" y="510" fill="#000">24</text>
<text x="762 769" y="542" fill="#000">22</text>
<text x="762 769" y="574" fill="#000">20</text>
<text x="762 769" y="607" fill="#000">18</text>
<text x="762 769" y="639" fill="#000">16</text>
<text x="762 769" y="671" fill="#000">14</text>
<text x="762 769" y="703" fill="#000">12</text>
<text x="9 17 24 31 38 44" y="743" fill="#000">August</text>
<text x="147 156 163 170 173 180 190 197 204" y="743" fill="#000">September</text>
<text x="564 573 579 582 589 596 603" y="743" fill="#000">October</text>
</g>
</svg>
</body></html>
